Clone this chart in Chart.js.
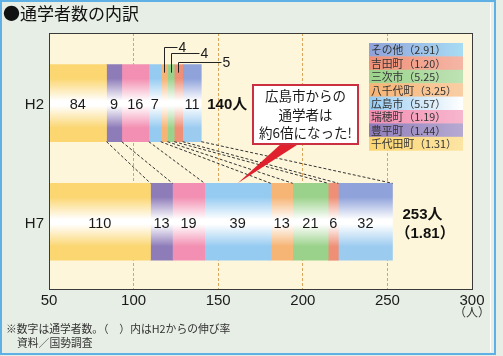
<!DOCTYPE html>
<html><head><meta charset="utf-8">
<script src="https://cdn.jsdelivr.net/npm/chart.js@4/dist/chart.umd.min.js"></script>
<style>html,body{margin:0;padding:0;background:#e7eee5;}#c{display:block}</style>
</head><body>
<canvas id="c" width="503" height="356"></canvas>
<script>
// ---- data ----
const years = ['H2', 'H7'];
const places = ['千代田町', '豊平町', '瑞穂町', '広島市', '八千代町', '三次市', '吉田町', 'その他'];
const h2Values = [84, 9, 16, 7, 4, 4, 5, 11];
const h7Values = [110, 13, 19, 39, 13, 21, 6, 32];
const growthRates = ['1.31', '1.44', '1.19', '5.57', '3.25', '5.25', '1.20', '2.91'];
const totalGrowth = ['', '1.81'];
const xTickValues = [50, 100, 150, 200, 250, 300];
const outsideLabelsH2 = [4, 5, 6];
const calloutLines = ['広島市からの', '通学者は', '約6倍になった!'];
const calloutTarget = 3;
const titleText = '●通学者数の内訳';
const unitText = '（人）';
const noteLines = ['※数字は通学者数。（　）内はH2からの伸び率', '資料／国勢調査'];

// ---- styles ----
const topColors = ['#fbd671', '#8e7cb9', '#f38fb2', '#96cbf1', '#f6b475', '#9bd28b', '#ef8f76', '#8fa2da'];
const botColors = ['#fbd671', '#8e7cb9', '#f38fb2', '#96cbf1', '#f6b475', '#9bd28b', '#ef8f76', '#9ccbf0'];
const FAM = '"Liberation Sans", "Noto Sans CJK JP", sans-serif';
const JFAM = '"Noto Sans CJK JP", "Liberation Sans", sans-serif';
const BAR_T = 77;
const Y_MIN = -0.5917, Y_MAX = 1.5667;

function barFill(ctx) {
  const i = ctx.datasetIndex;
  const chart = ctx.chart;
  const ys = chart.scales && chart.scales.y;
  if (!ys || ctx.type !== 'data' || !ctx.raw) return topColors[i];
  const cy = ys.getPixelForValue(ctx.raw.y);
  if (!isFinite(cy)) return topColors[i];
  const g = chart.ctx.createLinearGradient(0, cy - BAR_T / 2, 0, cy + BAR_T / 2);
  g.addColorStop(0, topColors[i]);
  g.addColorStop(0.18, topColors[i]);
  g.addColorStop(0.47, '#ffffff');
  g.addColorStop(0.53, '#ffffff');
  g.addColorStop(0.82, botColors[i]);
  g.addColorStop(1, botColors[i]);
  return g;
}

const datasets = places.map((p, i) => ({
  label: p,
  data: years.map((y, j) => ({ x: [h2Values, h7Values][j][i], y: j })),
  backgroundColor: barFill,
  borderWidth: 0,
  barThickness: BAR_T,
  stack: 's'
}));

function lighten(hex, f) {
  const n = parseInt(hex.slice(1), 16);
  const r = (n >> 16) & 255, g = (n >> 8) & 255, b = n & 255;
  const m = v => Math.round(v + (255 - v) * f);
  return `rgb(${m(r)},${m(g)},${m(b)})`;
}

const decor = {
  id: 'decor',
  beforeDraw(chart) {
    const c = chart.ctx, a = chart.chartArea;
    c.save();
    c.fillStyle = '#e7eee5';
    c.fillRect(0, 0, chart.width, chart.height);
    c.strokeStyle = '#5fb0e4';
    c.lineWidth = 2;
    c.strokeRect(1, 1, 494, 353);
    c.strokeStyle = '#ffffff';
    c.lineWidth = 1;
    c.beginPath(); c.moveTo(490.5, 3); c.lineTo(490.5, 352); c.stroke();
    c.fillStyle = '#fdf6da';
    c.fillRect(a.left, a.top, a.right - a.left, a.bottom - a.top);
    // title
    c.fillStyle = '#111';
    c.font = '17px ' + JFAM;
    c.textBaseline = 'middle';
    c.textAlign = 'left';
    c.fillText(titleText, 3, 14);
    c.restore();
  },
  afterDatasetsDraw(chart) {
    const c = chart.ctx, a = chart.chartArea;
    const metas = places.map((p, i) => chart.getDatasetMeta(i));
    c.save();
    // connectors
    c.strokeStyle = '#333';
    c.lineWidth = 1;
    c.setLineDash([3, 2]);
    metas.forEach(m => {
      const b2 = m.data[0], b7 = m.data[1];
      c.beginPath();
      c.moveTo(b2.x, b2.y + b2.height / 2);
      c.lineTo(b7.x, b7.y - b7.height / 2);
      c.stroke();
    });
    c.setLineDash([]);
    // labels inside bars
    c.fillStyle = '#1a1a1a';
    c.font = '14.5px ' + FAM;
    c.textAlign = 'center';
    c.textBaseline = 'middle';
    metas.forEach((m, i) => {
      m.data.forEach((b, j) => {
        if (j === 0 && outsideLabelsH2.includes(i)) return;
        const xl = Math.max(b.base, a.left);
        const v = [h2Values, h7Values][j][i];
        c.fillText(String(v), (xl + b.x) / 2, b.y + 2);
      });
    });
    // leader labels for small H2 segments
    const rise = [18, 12, 3], run = [13, 28, 43];
    c.textAlign = 'left';
    c.font = '14px ' + FAM;
    c.strokeStyle = '#222';
    outsideLabelsH2.forEach((i, k) => {
      const b = metas[i].data[0];
      const cx = Math.round((b.base + b.x) / 2) + 0.5;
      const yTop = b.y - b.height / 2;
      const ly = Math.round(yTop - rise[k]) + 0.5;
      c.beginPath();
      c.moveTo(cx, yTop + 8);
      c.lineTo(cx, ly);
      c.lineTo(cx + run[k], ly);
      c.stroke();
      c.fillText(String(h2Values[i]), cx + run[k] + 1, ly + 1);
    });
    // totals
    c.font = 'bold 15px ' + FAM;
    c.fillStyle = '#111';
    const last = metas[metas.length - 1];
    const tot = [h2Values, h7Values].map(arr => arr.reduce((s, v) => s + v, 0));
    last.data.forEach((b, j) => {
      if (totalGrowth[j]) {
        c.fillText(tot[j] + '人', b.x + 10, b.y - 7);
        c.fillText('（' + totalGrowth[j] + '）', b.x + 3, b.y + 12);
      } else {
        c.fillText(tot[j] + '人', b.x + 6, b.y + 2);
      }
    });
    // frame
    c.strokeStyle = '#3a3a3a';
    c.lineWidth = 1;
    c.strokeRect(Math.round(a.left) + 0.5, Math.round(a.top) + 0.5, Math.round(a.right - a.left), Math.round(a.bottom - a.top));
    // year labels
    c.font = '15px ' + FAM;
    c.textAlign = 'right';
    c.fillStyle = '#1a1a1a';
    years.forEach((y, j) => {
      c.fillText(y, a.left - 5, chart.scales.y.getPixelForValue(j) + 2);
    });
    // legend box
    const lx = a.right - 103, ly0 = a.top + 10, lw = 94, rh = 13.4;
    c.font = '10.8px ' + JFAM;
    c.textAlign = 'left';
    const order = places.map((p, i) => i).reverse();
    order.forEach((i, r) => {
      const y0 = ly0 + r * rh;
      const g = c.createLinearGradient(lx, 0, lx + lw, 0);
      g.addColorStop(0, topColors[i]);
      g.addColorStop(1, i === calloutTarget ? '#ffffff' : (i === 7 ? '#a8dcf4' : lighten(topColors[i], 0.35)));
      c.fillStyle = g;
      c.fillRect(lx, y0, lw, rh + 0.5);
      c.fillStyle = '#333';
      c.fillText(places[i] + '（' + growthRates[i] + '）', lx + 2, y0 + rh / 2 + 0.5);
    });
    // callout box
    const bx = a.left + 204, by = a.top + 52, bw = 105, bh = 59;
    const tb = metas[calloutTarget].data[1];
    const tipX = (tb.base + tb.x) / 2, tipY = tb.y - tb.height / 2;
    c.fillStyle = '#e0202c';
    c.beginPath();
    c.moveTo(tipX, tipY);
    c.lineTo(bx + 29, by + bh - 1);
    c.lineTo(bx + 47, by + bh - 1);
    c.closePath();
    c.fill();
    c.fillStyle = '#ffffff';
    c.fillRect(bx, by, bw, bh);
    c.strokeStyle = '#cc3040';
    c.lineWidth = 2;
    c.strokeRect(bx, by, bw, bh);
    c.fillStyle = '#1a1a1a';
    c.font = '13.5px ' + JFAM;
    c.textAlign = 'center';
    calloutLines.forEach((t, k) => c.fillText(t, bx + bw / 2, by + 11 + k * 18.5));
    // unit and notes
    c.font = '12px ' + JFAM;
    c.fillStyle = '#333';
    c.fillText(unitText, a.right, a.bottom + 23);
    c.textAlign = 'left';
    c.font = '10.8px ' + JFAM;
    c.fillText(noteLines[0], 6, 329);
    c.fillText(noteLines[1], 17, 343);
    c.restore();
  }
};

new Chart(document.getElementById('c'), {
  type: 'bar',
  data: { datasets },
  options: {
    indexAxis: 'y',
    responsive: false,
    animation: false,
    devicePixelRatio: 1,
    layout: { padding: { left: 49, right: 31, top: 33, bottom: 43 } },
    plugins: { legend: { display: false }, tooltip: { enabled: false } },
    scales: {
      x: {
        type: 'linear', stacked: true, min: 50, max: 300, offset: false,
        afterBuildTicks: s => { s.ticks = xTickValues.map(v => ({ value: v })); },
        ticks: { font: { size: 15, family: FAM }, color: '#1a1a1a', padding: 3, maxRotation: 0, autoSkip: false },
        grid: {
          drawTicks: false, lineWidth: 1, offset: false,
          color: ctx => (ctx.tick && ctx.tick.value > 50 && ctx.tick.value < 300) ? '#d9a55c' : 'rgba(0,0,0,0)'
        },
        border: { display: false, dash: [3, 2] }
      },
      y: {
        type: 'linear', stacked: true, reverse: true, bounds: 'data', offset: false,
        min: Y_MIN, max: Y_MAX, display: false,
        grid: { offset: false },
        afterBuildTicks: s => {
          s.ticks = years.map((y, j) => ({ value: j }));
          s.min = Y_MIN; s.max = Y_MAX;
        }
      }
    }
  },
  plugins: [decor]
});
</script>
</body></html>
